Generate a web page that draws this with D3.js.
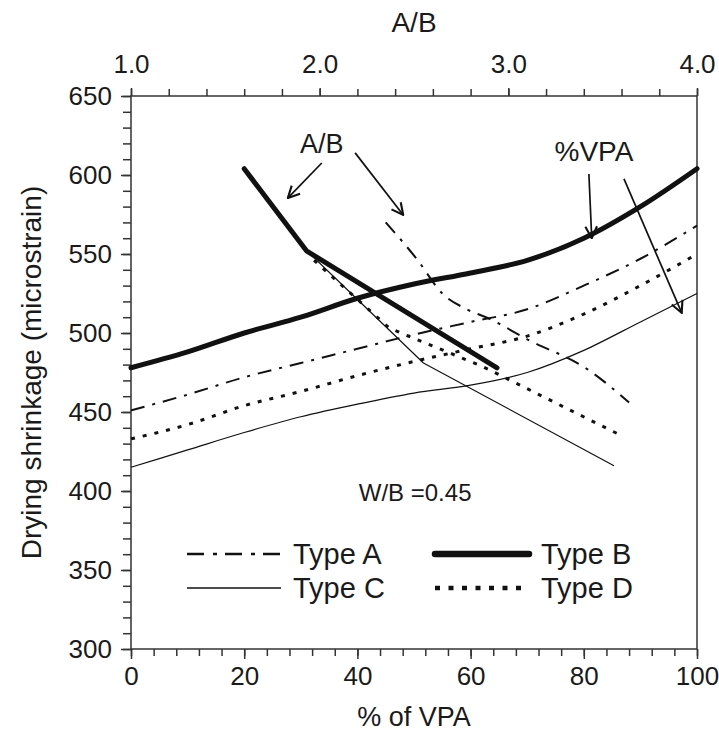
<!DOCTYPE html>
<html>
<head>
<meta charset="utf-8">
<script src="https://cdn.jsdelivr.net/npm/d3@7"></script>
<style>
  body { margin: 0; background: #fff; }
  text { font-family: "Liberation Sans", Arial, sans-serif; fill: #1a1a1a; }
</style>
</head>
<body>
<div id="chart"></div>
<script>
// % VPA curves (bottom axis)
const vpa = [0, 10, 20, 30, 40, 50, 60, 70, 80, 90, 100]
const typeA_vpa = [451, 461, 472, 481, 490, 499, 507, 515, 530, 547, 568]
const typeB_vpa = [478, 488, 500, 510, 522, 531, 538, 546, 560, 580, 604]
const typeC_vpa = [415, 426, 437, 447, 455, 462, 467, 475, 489, 507, 525]
const typeD_vpa = [433, 442, 454, 463, 473, 482, 490, 498, 512, 530, 550]

// A/B curves (top axis)
const abA = [2.35, 2.52, 2.65, 2.78, 2.9, 3.1, 3.42, 3.64]
const typeA_ab = [570, 546, 525, 515, 509, 496, 477, 456]
const abB = [1.6, 1.93, 2.94]
const typeB_ab = [604, 552, 478]
const abC = [1.95, 2.55, 3.56]
const typeC_ab = [550, 481, 416]
const abD = [1.97, 2.37, 2.86, 3.6]
const typeD_ab = [546, 503, 479, 435]

const yTicks = [300, 350, 400, 450, 500, 550, 600, 650]
const xTicks = [0, 20, 40, 60, 80, 100]
const abTicks = [1.0, 2.0, 3.0, 4.0]

const margin = { top: 96, left: 131, right: 22, bottom: 84 }
const width = 719 - margin.left - margin.right
const height = 733 - margin.top - margin.bottom

var svg = d3.select('#chart')
  .append('svg')
  .attr('width', 719)
  .attr('height', 733)
  .append('g')
  .attr('transform', 'translate(' + margin.left + ',' + margin.top + ')')

var x = d3.scaleLinear().domain([0, 100]).range([0, width])
var xTop = d3.scaleLinear().domain([1, 4]).range([0, width])
var y = d3.scaleLinear().domain([300, 650]).range([height, 0])

// frame
svg.append('rect')
  .attr('width', width).attr('height', height)
  .attr('fill', 'none').attr('stroke', '#333').attr('stroke-width', 1.5)

function styleAxis(g) {
  g.select('.domain').remove()
  g.selectAll('line').attr('stroke', '#333').attr('stroke-width', 1.5)
  g.selectAll('text').attr('font-size', 26).attr('fill', '#1a1a1a')
    .style('font-family', '"Liberation Sans", Arial, sans-serif')
}

// minor ticks
svg.append('g').attr('transform', 'translate(0,' + height + ')')
  .call(d3.axisBottom(x).tickValues(d3.range(0, 101, 4)).tickSize(7).tickFormat(''))
  .call(styleAxis)
svg.append('g')
  .call(d3.axisTop(xTop).tickValues(d3.range(1, 4.01, 0.2)).tickSize(7).tickFormat(''))
  .call(styleAxis)
svg.append('g')
  .call(d3.axisLeft(y).tickValues(d3.range(300, 651, 10)).tickSize(8).tickFormat(''))
  .call(styleAxis)

// major ticks + labels
svg.append('g').attr('transform', 'translate(0,' + height + ')')
  .call(d3.axisBottom(x).tickValues(xTicks).tickSize(10).tickPadding(8))
  .call(styleAxis)
svg.append('g')
  .call(d3.axisTop(xTop).tickValues(abTicks).tickSize(8).tickPadding(15).tickFormat(d3.format('.1f')))
  .call(styleAxis)
svg.append('g')
  .call(d3.axisLeft(y).tickValues(yTicks).tickSize(10).tickPadding(9))
  .call(styleAxis)

// axis titles
svg.append('text').attr('x', width / 2).attr('y', height + 77)
  .attr('text-anchor', 'middle').attr('font-size', 27).text('% of VPA')
svg.append('text').attr('x', width / 2).attr('y', -64)
  .attr('text-anchor', 'middle').attr('font-size', 28).text('A/B')
svg.append('text')
  .attr('transform', 'translate(' + (-100) + ',' + (height / 2) + ') rotate(-90)')
  .attr('dy', '0.35em')
  .attr('text-anchor', 'middle').attr('font-size', 28).text('Drying shrinkage (microstrain)')

var styles = {
  A: { width: 2, dash: '14,8,3,8', cap: 'butt' },
  B: { width: 5, dash: null, cap: 'round' },
  C: { width: 1.2, dash: null, cap: 'butt' },
  D: { width: 3, dash: '4,8', cap: 'butt' }
}

var series = [
  { type: 'A', xs: vpa, ys: typeA_vpa, sx: x, curve: d3.curveMonotoneX },
  { type: 'B', xs: vpa, ys: typeB_vpa, sx: x, curve: d3.curveMonotoneX },
  { type: 'C', xs: vpa, ys: typeC_vpa, sx: x, curve: d3.curveMonotoneX },
  { type: 'D', xs: vpa, ys: typeD_vpa, sx: x, curve: d3.curveMonotoneX },
  { type: 'A', xs: abA, ys: typeA_ab, sx: xTop, curve: d3.curveMonotoneX },
  { type: 'B', xs: abB, ys: typeB_ab, sx: xTop, curve: d3.curveLinear },
  { type: 'C', xs: abC, ys: typeC_ab, sx: xTop, curve: d3.curveLinear },
  { type: 'D', xs: abD, ys: typeD_ab, sx: xTop, curve: d3.curveLinear }
]

series.forEach(function(s) {
  var st = styles[s.type]
  var line = d3.line()
    .x(function(d) { return s.sx(d[0]) })
    .y(function(d) { return y(d[1]) })
    .curve(s.curve)
  svg.append('path')
    .datum(d3.zip(s.xs, s.ys))
    .attr('class', 'line type' + s.type)
    .attr('d', line)
    .attr('fill', 'none')
    .attr('stroke', '#111')
    .attr('stroke-width', st.width)
    .attr('stroke-linecap', st.cap)
    .attr('stroke-linejoin', 'round')
    .attr('stroke-dasharray', st.dash)
})

// arrows
svg.append('defs').append('marker')
  .attr('id', 'head')
  .attr('viewBox', '0 0 12 12')
  .attr('refX', 11).attr('refY', 6)
  .attr('markerWidth', 14).attr('markerHeight', 14)
  .attr('markerUnits', 'userSpaceOnUse')
  .attr('orient', 'auto')
  .append('path')
  .attr('d', 'M1,1 L11,6 L1,11')
  .attr('fill', 'none').attr('stroke', '#111').attr('stroke-width', 1.8)

var arrows = [
  [[33.7, 607.6], [27.7, 585.4]],
  [[39.6, 614], [48.1, 574.7]],
  [[80.9, 600.6], [81.4, 560]],
  [[87.1, 597.5], [97.3, 512.7]]
]
svg.selectAll('.arrow')
  .data(arrows)
  .enter().append('line')
  .attr('class', 'arrow')
  .attr('x1', d => x(d[0][0])).attr('y1', d => y(d[0][1]))
  .attr('x2', d => x(d[1][0])).attr('y2', d => y(d[1][1]))
  .attr('stroke', '#111').attr('stroke-width', 1.7)
  .attr('marker-end', 'url(#head)')

var notes = [
  { t: 'A/B', x: 33.7, y: 620, size: 27 },
  { t: '%VPA', x: 81.8, y: 615, size: 28 },
  { t: 'W/B =0.45', x: 50.2, y: 399, size: 24 }
]
svg.selectAll('.note')
  .data(notes)
  .enter().append('text')
  .attr('class', 'note')
  .attr('x', d => x(d.x)).attr('y', d => y(d.y))
  .attr('dy', '0.35em')
  .attr('text-anchor', 'middle')
  .attr('font-size', d => d.size)
  .text(d => d.t)

// legend
var legend = [
  { type: 'A', label: 'Type A', col: 0, row: 0 },
  { type: 'B', label: 'Type B', col: 1, row: 0 },
  { type: 'C', label: 'Type C', col: 0, row: 1 },
  { type: 'D', label: 'Type D', col: 1, row: 1 }
]
var lg = svg.selectAll('.legend')
  .data(legend)
  .enter().append('g')
  .attr('class', 'legend')
  .attr('transform', d => 'translate(' + (56 + d.col * 248) + ',' + (458 + d.row * 34) + ')')
lg.append('line')
  .attr('x1', 0).attr('x2', 94)
  .attr('stroke', '#111')
  .attr('stroke-width', d => d.type === 'B' ? 6.5 : (d.type === 'D' ? 4.5 : (d.type === 'A' ? 2.5 : 1.3)))
  .attr('stroke-dasharray', d => d.type === 'A' ? '17,9,4,8' : (d.type === 'D' ? '5,8.5' : null))
  .attr('stroke-linecap', d => d.type === 'B' ? 'round' : 'butt')
lg.append('text')
  .attr('x', 106).attr('dy', '0.35em')
  .attr('font-size', 29)
  .text(d => d.label)
</script>
</body>
</html>
